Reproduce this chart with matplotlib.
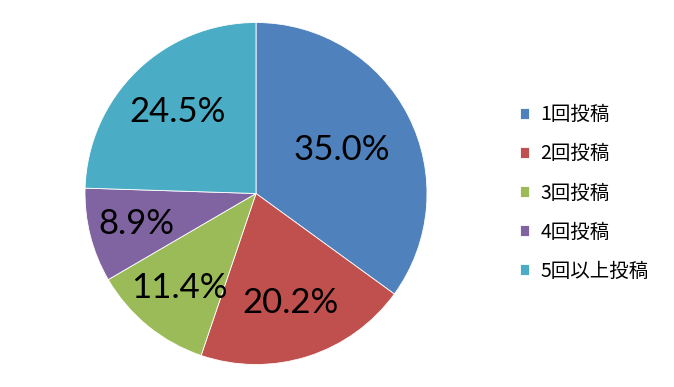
import numpy as np
import matplotlib
matplotlib.use("Agg")
import matplotlib.pyplot as plt

plt.rcParams['font.family'] = ['Noto Sans CJK JP', 'DejaVu Sans']

# posting count share
labels = ['1回投稿', '2回投稿', '3回投稿', '4回投稿', '5回以上投稿']
shares = [35.0, 20.2, 11.4, 8.9, 24.5]
colors = ['#4F81BD', '#C0504D', '#9BBB59', '#8064A2', '#4BACC6']

# label distance from centre (fraction of radius), like Excel's best fit
label_r = [0.56, 0.67, 0.71, 0.72, 0.66]

fig = plt.figure(figsize=(6.74, 3.87), dpi=100)
ax = fig.add_axes([85 / 674, (387 - 365) / 387, 342 / 674, 343 / 387])

wedges, texts, pcts = ax.pie(shares, colors=colors, startangle=90, counterclock=False,
                             autopct='%1.1f%%', pctdistance=0.6,
                             wedgeprops=dict(edgecolor='white', linewidth=0.6),
                             textprops=dict(fontsize=25, family=['Lato', 'DejaVu Sans']))
for w, t, r in zip(wedges, pcts, label_r):
  a = np.deg2rad((w.theta1 + w.theta2) / 2)
  t.set_position((r * np.cos(a), r * np.sin(a)))

ax.set_xlim(-1.0, 1.0)
ax.set_ylim(-1.0, 1.0)
ax.set_aspect('equal')

fig.legend(wedges, labels, loc='center left', bbox_to_anchor=(502 / 674, 1 - 193 / 387),
           frameon=False, fontsize=14, handlelength=0.48, handleheight=0.48,
           handletextpad=0.6, labelspacing=0.93)

fig.savefig('out.png', dpi=100)
